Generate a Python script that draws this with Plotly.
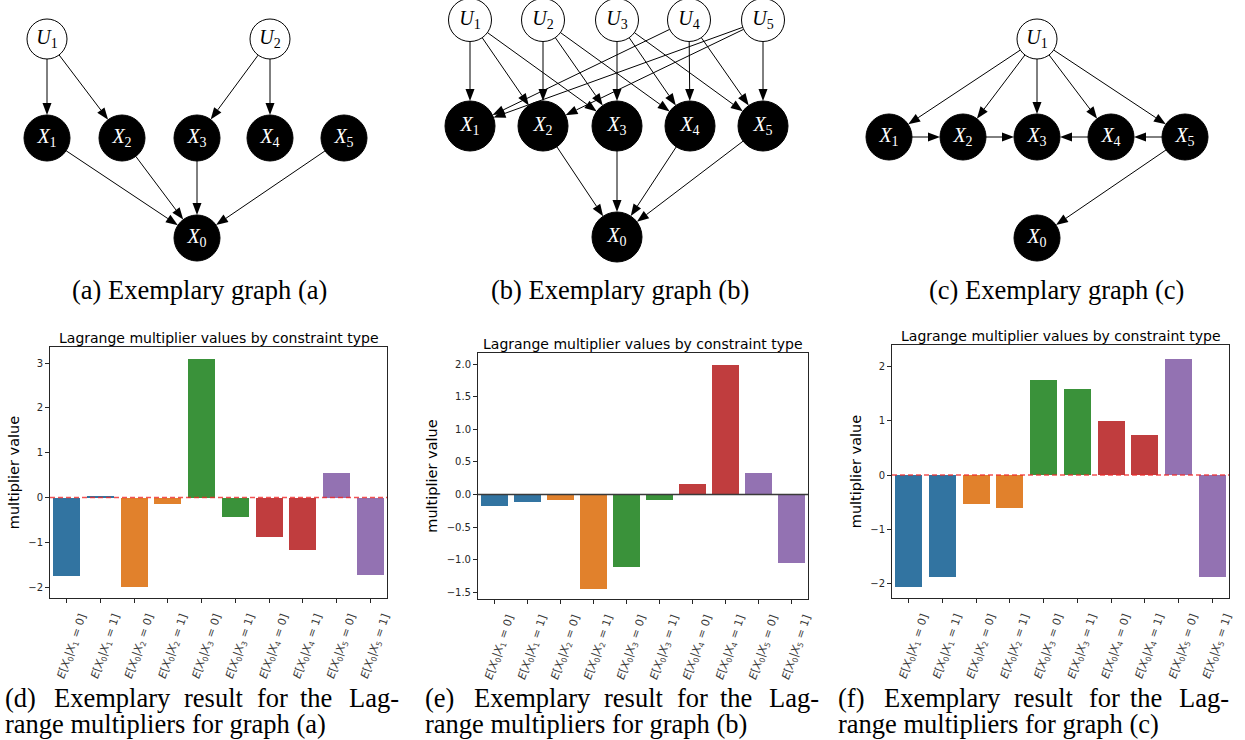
import numpy as np
import plotly.graph_objects as go

W, H = 1245, 740

# ---------------------------------------------------------------- data
constraint_labels = [
    f"<i>E</i>[<i>X</i><sub>0</sub>|<i>X</i><sub>{k}</sub> = {v}]"
    for k in range(1, 6) for v in (0, 1)
]
lagrange_a = [-1.75, 0.03, -1.99, -0.14, 3.10, -0.44, -0.88, -1.17, 0.56, -1.73]
lagrange_b = [-0.17, -0.12, -0.09, -1.44, -1.11, -0.08, 0.16, 1.98, 0.33, -1.05]
lagrange_c = [-2.06, -1.88, -0.54, -0.60, 1.75, 1.59, 1.00, 0.74, 2.15, -1.88]

palette = ["#3274a1", "#e1812c", "#3a923a", "#c03d3e", "#9372b2"]
bar_colors = [palette[i // 2] for i in range(10)]

edges_a = [("U1", "X1"), ("U1", "X2"), ("U2", "X3"), ("U2", "X4"),
           ("X1", "X0"), ("X2", "X0"), ("X3", "X0"), ("X5", "X0")]
edges_b = [("U1", "X1"), ("U1", "X2"), ("U1", "X3"),
           ("U2", "X2"), ("U2", "X3"), ("U2", "X4"),
           ("U3", "X3"), ("U3", "X4"), ("U3", "X5"),
           ("U4", "X4"), ("U4", "X5"), ("U4", "X1"),
           ("U5", "X5"), ("U5", "X1"), ("U5", "X2"),
           ("X2", "X0"), ("X3", "X0"), ("X4", "X0"), ("X5", "X0")]
edges_c = [("U1", "X1"), ("U1", "X2"), ("U1", "X3"), ("U1", "X4"), ("U1", "X5"),
           ("X1", "X2"), ("X2", "X3"), ("X4", "X3"), ("X5", "X4"), ("X5", "X0")]

# ---------------------------------------------------------------- layout of graph drawings (pixel space)
layout_a = {"U1": (47, 39), "U2": (270, 39),
            "X1": (47, 138), "X2": (122, 138), "X3": (197, 138), "X4": (270, 138),
            "X5": (344, 138), "X0": (197, 238)}
layout_b = {"U1": (470, 20), "U2": (543, 20), "U3": (617, 20), "U4": (689, 20), "U5": (763, 20),
            "X1": (470, 126), "X2": (543, 126), "X3": (617, 126), "X4": (690, 126),
            "X5": (763, 126), "X0": (617, 237)}
layout_c = {"U1": (1037, 39),
            "X1": (889, 137), "X2": (963, 137), "X3": (1037, 137), "X4": (1111, 137),
            "X5": (1185, 137), "X0": (1037, 238)}

graphs = [
    (layout_a, edges_a, 20, 23, "(a) Exemplary graph (a)", 199),
    (layout_b, edges_b, 21.5, 25, "(b) Exemplary graph (b)", 620),
    (layout_c, edges_c, 20, 23, "(c) Exemplary graph (c)", 1056),
]

# bar panels: (left, top, right, bottom) in px, y range, ticks, zero-line style
panels = [
    (lagrange_a, (50, 347, 387, 598), (-2.24, 3.36), [-2, -1, 0, 1, 2, 3], "d"),
    (lagrange_b, (478, 353, 808, 599), (-1.6, 2.17), [-1.5, -1.0, -0.5, 0.0, 0.5, 1.0, 1.5, 2.0], "s"),
    (lagrange_c, (892, 345, 1229, 598), (-2.27, 2.4), [-2, -1, 0, 1, 2], "d"),
]

captions = [
    ("d", "a", 3, [0, 49, 179, 252, 295, 344]),
    ("e", "b", 423, [0, 49, 179, 252, 295, 344]),
    ("f", "c", 836, [0, 46, 176, 251, 292, 341]),
]

SANS = "DejaVu Sans"
SERIF = "Liberation Serif"
INK = "#262626"
CAP_SIZE = 26.5

fig = go.Figure()
shapes = []
annotations = []

# ---------------------------------------------------------------- bar charts
for i, (vals, (l, t, r, b), yr, yt, zstyle) in enumerate(panels, start=1):
    xa, ya = ("x", "y") if i == 1 else (f"x{i}", f"y{i}")
    fig.add_trace(go.Bar(
        x=list(range(10)), y=vals, width=0.8,
        marker=dict(color=bar_colors, line=dict(width=0)),
        xaxis=xa, yaxis=ya, showlegend=False, hoverinfo="y",
    ))
    xkey = "xaxis" if i == 1 else f"xaxis{i}"
    ykey = "yaxis" if i == 1 else f"yaxis{i}"
    common = dict(showline=True, mirror=True, linecolor=INK, linewidth=1,
                  ticks="outside", ticklen=4, tickwidth=1, tickcolor=INK,
                  showgrid=False, zeroline=False, automargin=False,
                  tickfont=dict(family=SANS, size=10, color=INK))
    fig.layout[xkey] = dict(
        common, domain=[l / W, r / W], anchor=ya, range=[-0.5, 9.5],
        tickmode="array", tickvals=list(range(10)), ticktext=constraint_labels,
        tickangle=-71, ticklabelshift=14, ticklabelstandoff=3,
        tickfont=dict(family=SANS, size=11, color="#3a3a3a"),
    )
    fig.layout[ykey] = dict(
        common, domain=[1 - b / H, 1 - t / H], anchor=xa, range=list(yr),
        tickmode="array", tickvals=yt,
        tickformat=".1f" if isinstance(yt[0], float) else "d",
        title=dict(text="multiplier value", standoff=5,
                   font=dict(family=SANS, size=14.5, color="black")),
    )
    if zstyle == "d":
        shapes.append(dict(type="line", xref=f"{xa} domain", yref=ya, x0=0, x1=1, y0=0, y1=0,
                           line=dict(color="rgba(240,40,40,0.8)", width=1.5, dash="5px,3px"),
                           layer="above"))
    else:
        shapes.append(dict(type="line", xref=f"{xa} domain", yref=ya, x0=0, x1=1, y0=0, y1=0,
                           line=dict(color="#3a3a3a", width=1.5), layer="above"))
    annotations.append(dict(
        text="Lagrange multiplier values by constraint type", xref="x4", yref="y4",
        x=(l + r) / 2, y=t - 9, xanchor="center", yanchor="middle", showarrow=False,
        font=dict(family=SANS, size=14, color="black"),
    ))

# ---------------------------------------------------------------- causal graphs
HEAD_LEN, HEAD_HALF = 12, 4.5
for pos, edges, ru, rx, cap, cap_x in graphs:
    radius = {n: (ru if n.startswith("U") else rx) for n in pos}
    lx, ly = [], []
    for s, d in edges:
        p0, p1 = np.array(pos[s], float), np.array(pos[d], float)
        u = (p1 - p0) / np.linalg.norm(p1 - p0)
        nrm = np.array([-u[1], u[0]])
        start = p0 + u * radius[s]
        tip = p1 - u * radius[d]
        base = tip - u * HEAD_LEN
        lx += [start[0], base[0], None]
        ly += [start[1], base[1], None]
        a, c = base + nrm * HEAD_HALF, base - nrm * HEAD_HALF
        shapes.append(dict(
            type="path", xref="x4", yref="y4", layer="above",
            path=f"M{tip[0]:.2f},{tip[1]:.2f} L{a[0]:.2f},{a[1]:.2f} L{c[0]:.2f},{c[1]:.2f} Z",
            fillcolor="black", line=dict(width=0),
        ))
    fig.add_trace(go.Scatter(x=lx, y=ly, mode="lines", line=dict(color="black", width=1),
                             xaxis="x4", yaxis="y4", showlegend=False, hoverinfo="skip"))
    for kind, fill, txt in (("U", "white", "black"), ("X", "black", "white")):
        names = [n for n in pos if n.startswith(kind)]
        fig.add_trace(go.Scatter(
            x=[pos[n][0] for n in names], y=[pos[n][1] for n in names],
            mode="markers+text",
            text=[f"<i>{n[0]}</i><sub>{n[1:]}</sub>" for n in names],
            textposition="middle center",
            textfont=dict(family=SERIF, size=20, color=txt),
            marker=dict(size=[2 * radius[n] for n in names], color=fill, opacity=1,
                        line=dict(color="black", width=1)),
            xaxis="x4", yaxis="y4", showlegend=False, hoverinfo="skip",
        ))
    annotations.append(dict(text=cap, xref="x4", yref="y4", x=cap_x, y=290,
                            xanchor="center", yanchor="middle", showarrow=False,
                            font=dict(family=SERIF, size=CAP_SIZE, color="black")))

# ---------------------------------------------------------------- sub-figure captions
for letter, graph, x0, offs in captions:
    words = [f"({letter})", "Exemplary", "result", "for", "the", "Lag-"]
    for w, o in zip(words, offs):
        annotations.append(dict(text=w, xref="x4", yref="y4", x=x0 + o, y=698,
                                xanchor="left", yanchor="middle", showarrow=False,
                                font=dict(family=SERIF, size=CAP_SIZE, color="black")))
    annotations.append(dict(text=f"range multipliers for graph ({graph})", xref="x4", yref="y4",
                            x=x0, y=724, xanchor="left", yanchor="middle", showarrow=False,
                            font=dict(family=SERIF, size=CAP_SIZE, color="black")))

fig.update_layout(
    width=W, height=H, margin=dict(l=0, r=0, t=0, b=0),
    paper_bgcolor="white", plot_bgcolor="rgba(0,0,0,0)",
    xaxis4=dict(domain=[0, 1], range=[0, W], visible=False, anchor="y4", fixedrange=True),
    yaxis4=dict(domain=[0, 1], range=[H, 0], visible=False, anchor="x4", fixedrange=True),
    shapes=shapes, annotations=annotations, bargap=0,
)

fig.write_html("out.html")
